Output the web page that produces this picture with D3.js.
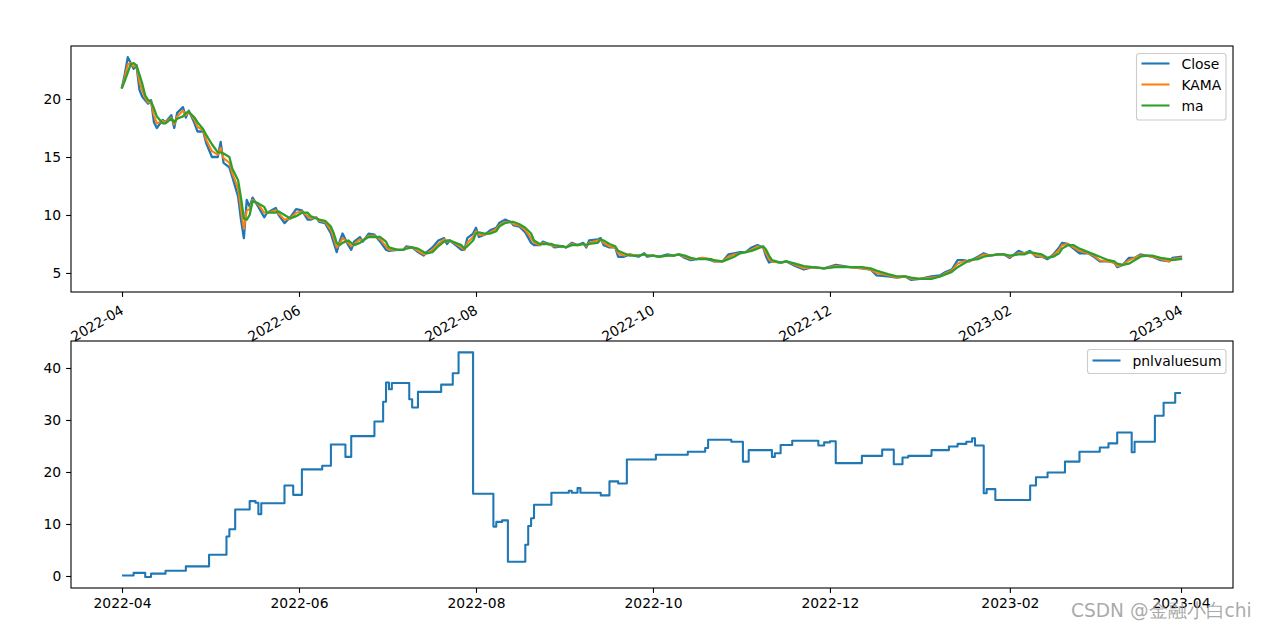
<!DOCTYPE html>
<html>
<head>
<meta charset="utf-8">
<script src="https://cdn.jsdelivr.net/npm/d3@7"></script>
<style>
  html, body { margin: 0; padding: 0; background: #fff; }
  svg { display: block; }
  text { font-family: "DejaVu Sans", sans-serif; }
</style>
</head>
<body>
<svg id="chart" width="1264" height="628"></svg>
<script>
// ---------- DATA ----------
const priceDates = [
"2022-04-01","2022-04-02","2022-04-03","2022-04-04","2022-04-05","2022-04-06","2022-04-07","2022-04-08","2022-04-09","2022-04-10",
"2022-04-11","2022-04-12","2022-04-13","2022-04-15","2022-04-16","2022-04-18","2022-04-19","2022-04-20","2022-04-22","2022-04-23",
"2022-04-24","2022-04-26","2022-04-27","2022-04-29","2022-04-30","2022-05-02","2022-05-04","2022-05-05","2022-05-06","2022-05-08",
"2022-05-09","2022-05-11","2022-05-12","2022-05-13","2022-05-14","2022-05-15","2022-05-16","2022-05-18","2022-05-20","2022-05-21",
"2022-05-24","2022-05-25","2022-05-27","2022-05-29","2022-05-31","2022-06-02","2022-06-04","2022-06-05","2022-06-07","2022-06-08",
"2022-06-10","2022-06-12","2022-06-13","2022-06-14","2022-06-15","2022-06-16","2022-06-18","2022-06-19","2022-06-20","2022-06-22",
"2022-06-23","2022-06-25","2022-06-27","2022-06-29","2022-07-01","2022-07-02","2022-07-05","2022-07-07","2022-07-08","2022-07-10",
"2022-07-12","2022-07-14","2022-07-15","2022-07-17","2022-07-19","2022-07-21","2022-07-22","2022-07-23","2022-07-25","2022-07-27",
"2022-07-28","2022-07-29","2022-07-31","2022-08-01","2022-08-02","2022-08-04","2022-08-06","2022-08-08","2022-08-09","2022-08-11",
"2022-08-13","2022-08-14","2022-08-16","2022-08-18","2022-08-20","2022-08-21","2022-08-23","2022-08-24","2022-08-27","2022-08-28",
"2022-08-31","2022-09-01","2022-09-03","2022-09-05","2022-09-07","2022-09-08","2022-09-09","2022-09-12","2022-09-13","2022-09-14",
"2022-09-16","2022-09-18","2022-09-19","2022-09-21","2022-09-23","2022-09-26","2022-09-28","2022-09-29","2022-10-01","2022-10-03",
"2022-10-06","2022-10-08","2022-10-10","2022-10-12","2022-10-14","2022-10-16","2022-10-18","2022-10-21","2022-10-22","2022-10-25",
"2022-10-27","2022-10-29","2022-10-31","2022-11-02","2022-11-04","2022-11-06","2022-11-08","2022-11-09","2022-11-10","2022-11-11",
"2022-11-14","2022-11-16","2022-11-19","2022-11-22","2022-11-25","2022-11-29","2022-12-03","2022-12-08","2022-12-12","2022-12-15",
"2022-12-17","2022-12-21","2022-12-24","2022-12-27","2022-12-29","2023-01-01","2023-01-05","2023-01-08","2023-01-10","2023-01-12",
"2023-01-14","2023-01-16","2023-01-18","2023-01-21","2023-01-23","2023-01-25","2023-01-28","2023-01-30","2023-02-01","2023-02-04",
"2023-02-06","2023-02-08","2023-02-10","2023-02-12","2023-02-14","2023-02-16","2023-02-18","2023-02-19","2023-02-21","2023-02-23",
"2023-02-25","2023-02-28","2023-03-02","2023-03-04","2023-03-07","2023-03-09","2023-03-10","2023-03-12","2023-03-14","2023-03-16",
"2023-03-18","2023-03-20","2023-03-22","2023-03-25","2023-03-28","2023-03-29","2023-04-01"
];
const closeValues = [
21.0,22.2,23.6,23.1,22.6,22.9,20.8,20.2,19.9,19.6,
19.9,18.0,17.5,18.2,18.0,18.6,17.5,18.8,19.3,18.4,
19.0,17.9,17.2,17.2,16.2,15.0,15.0,16.3,14.5,14.1,
13.3,11.6,9.6,8.0,11.3,10.7,11.5,10.7,9.8,10.2,
10.6,10.0,9.3,9.8,10.5,10.4,9.6,9.6,9.8,9.4,
9.3,8.4,7.6,6.8,7.7,8.4,7.4,7.0,7.7,8.1,
7.7,8.4,8.3,7.7,7.0,6.9,7.0,7.0,7.3,7.2,
6.8,6.5,6.8,7.2,7.8,8.0,7.5,7.8,7.4,7.0,
7.0,8.0,8.4,8.9,8.1,8.3,8.7,8.9,9.3,9.6,
9.4,9.1,9.0,8.5,7.6,7.4,7.4,7.7,7.4,7.2,
7.3,7.2,7.6,7.4,7.6,7.2,7.8,7.9,8.0,7.4,
7.2,7.2,6.4,6.4,6.6,6.4,6.7,6.4,6.5,6.4,
6.6,6.5,6.6,6.3,6.1,6.2,6.3,6.1,6.0,6.0,
6.6,6.7,6.8,6.8,7.2,7.4,7.2,6.4,5.9,6.0,
5.9,6.0,5.6,5.3,5.5,5.4,5.7,5.5,5.4,5.3,
4.8,4.7,4.6,4.7,4.4,4.5,4.7,4.8,5.1,5.3,
6.1,6.1,6.0,6.4,6.7,6.5,6.6,6.6,6.3,6.9,
6.7,6.9,6.4,6.4,6.2,6.6,7.2,7.6,7.5,7.1,
6.7,6.7,6.4,6.0,6.0,5.9,5.5,5.7,6.3,6.3,
6.6,6.5,6.4,6.1,6.0,6.3,6.4
];
const kamaValues = [
21.0,21.9,23.0,23.1,22.8,22.9,21.5,20.7,20.1,19.7,
19.8,18.6,17.9,18.1,18.0,18.4,17.8,18.5,19.0,18.6,
18.9,18.2,17.6,17.3,16.5,15.5,15.2,15.8,14.9,14.5,
13.6,12.3,10.5,8.8,10.4,10.5,11.3,10.9,10.2,10.2,
10.4,10.1,9.6,9.7,10.2,10.3,9.9,9.7,9.8,9.5,
9.4,8.7,8.0,7.2,7.5,8.0,7.6,7.3,7.5,7.9,
7.8,8.2,8.2,7.9,7.3,7.0,7.0,7.0,7.2,7.2,
6.9,6.6,6.7,7.0,7.5,7.9,7.7,7.8,7.5,7.2,
7.0,7.6,8.1,8.6,8.3,8.3,8.5,8.8,9.1,9.4,
9.4,9.2,9.1,8.7,8.0,7.6,7.4,7.6,7.4,7.3,
7.3,7.2,7.5,7.4,7.5,7.3,7.6,7.8,7.9,7.6,
7.3,7.2,6.7,6.5,6.6,6.5,6.6,6.5,6.5,6.4,
6.5,6.5,6.6,6.4,6.2,6.2,6.3,6.2,6.0,6.0,
6.4,6.6,6.7,6.8,7.0,7.3,7.2,6.7,6.2,6.0,
5.9,6.0,5.7,5.4,5.5,5.4,5.6,5.5,5.4,5.3,
5.0,4.8,4.6,4.7,4.5,4.5,4.6,4.7,5.0,5.2,
5.8,6.0,6.0,6.3,6.6,6.5,6.6,6.6,6.4,6.7,
6.7,6.8,6.5,6.4,6.3,6.5,7.0,7.4,7.5,7.2,
6.9,6.7,6.5,6.1,6.0,5.9,5.6,5.7,6.1,6.3,
6.5,6.5,6.4,6.2,6.0,6.2,6.3
];
const maValues = [
21.0,21.6,22.3,23.0,23.1,22.9,22.1,21.3,20.3,19.9,
19.8,19.2,18.5,17.9,17.9,18.3,18.0,18.3,18.5,18.8,
18.9,18.4,18.0,17.4,16.9,16.1,15.4,15.4,15.3,15.0,
14.0,13.0,11.5,9.7,9.6,10.0,11.2,11.0,10.7,10.2,
10.2,10.3,10.0,9.7,9.9,10.2,10.2,9.9,9.7,9.6,
9.5,9.0,8.4,7.6,7.4,7.6,7.8,7.6,7.4,7.6,
7.8,8.1,8.1,8.1,7.7,7.2,7.0,7.0,7.1,7.2,
7.1,6.8,6.7,6.8,7.3,7.7,7.8,7.8,7.6,7.4,
7.1,7.3,7.8,8.4,8.5,8.4,8.4,8.6,9.0,9.3,
9.4,9.4,9.2,8.9,8.4,7.8,7.5,7.5,7.5,7.4,
7.3,7.2,7.4,7.4,7.5,7.4,7.5,7.6,7.9,7.8,
7.5,7.3,6.9,6.7,6.5,6.5,6.6,6.5,6.5,6.4,
6.5,6.5,6.6,6.5,6.3,6.2,6.2,6.2,6.1,6.0,
6.2,6.4,6.7,6.8,6.9,7.1,7.3,7.0,6.5,6.1,
5.9,6.0,5.8,5.6,5.5,5.4,5.5,5.5,5.5,5.4,
5.2,4.9,4.7,4.7,4.6,4.5,4.5,4.7,4.9,5.1,
5.5,5.8,6.1,6.2,6.4,6.5,6.6,6.6,6.5,6.6,
6.6,6.8,6.7,6.6,6.3,6.4,6.7,7.1,7.4,7.4,
7.1,6.8,6.6,6.4,6.1,6.0,5.8,5.7,5.8,6.1,
6.4,6.5,6.5,6.3,6.2,6.1,6.2
];

const pnlDates = [
"2022-04-01","2022-04-05","2022-04-09","2022-04-11","2022-04-16","2022-04-23","2022-05-01","2022-05-07","2022-05-08","2022-05-10",
"2022-05-15","2022-05-17","2022-05-18","2022-05-19","2022-05-27","2022-05-30","2022-06-02","2022-06-09","2022-06-12","2022-06-17",
"2022-06-19","2022-06-27","2022-06-30","2022-07-01","2022-07-02","2022-07-03","2022-07-09","2022-07-10","2022-07-12","2022-07-20",
"2022-07-24","2022-07-26","2022-07-31","2022-08-07","2022-08-08","2022-08-10","2022-08-12","2022-08-18","2022-08-19","2022-08-20",
"2022-08-21","2022-08-27","2022-09-02","2022-09-03","2022-09-05","2022-09-06","2022-09-13","2022-09-16","2022-09-19","2022-09-22",
"2022-10-02","2022-10-13","2022-10-19","2022-10-20","2022-10-28","2022-11-01","2022-11-03","2022-11-11","2022-11-12","2022-11-14",
"2022-11-18","2022-11-27","2022-11-29","2022-12-01","2022-12-03","2022-12-12","2022-12-19","2022-12-23","2022-12-26","2022-12-28",
"2023-01-05","2023-01-11","2023-01-14","2023-01-17","2023-01-19","2023-01-20","2023-01-23","2023-01-24","2023-01-27","2023-02-08",
"2023-02-10","2023-02-14","2023-02-20","2023-02-25","2023-03-04","2023-03-07","2023-03-10","2023-03-15","2023-03-16","2023-03-23",
"2023-03-26","2023-03-30","2023-04-01"
];
const pnlValues = [
0.1,0.6,-0.2,0.45,1.0,1.85,4.1,7.6,9.0,12.8,
14.4,14.1,11.9,14.0,17.4,15.6,20.5,21.2,25.3,22.9,
26.9,29.7,33.5,37.2,35.9,37.1,34.0,32.4,35.4,36.8,
39.0,43.0,15.8,9.5,10.4,10.7,2.75,6.0,9.6,11.1,
13.7,16.0,16.4,16.0,16.9,16.0,15.5,18.2,17.8,22.4,
23.3,23.9,24.6,26.2,25.8,22.0,24.2,22.9,23.6,25.2,
26.0,25.1,25.7,25.9,21.7,23.1,24.3,21.5,22.8,23.1,
24.2,24.9,25.4,25.8,26.5,25.1,15.9,16.7,14.6,17.4,
19.0,19.9,22.0,23.9,24.7,25.5,27.6,23.8,25.8,30.8,
33.3,35.2,35.2
];

const seriesNames = ["Close", "KAMA", "ma"];
const pnlName = "pnlvaluesum";
const topYTicks = [5, 10, 15, 20];
const bottomYTicks = [0, 10, 20, 30, 40];
const xTickLabels = ["2022-04","2022-06","2022-08","2022-10","2022-12","2023-02","2023-04"];
const xDomain = ["2022-03-14T10:00", "2023-04-18T22:00"];
const topYDomain = [3.36, 24.57];
const bottomYDomain = [-2.31, 45.19];
const watermark = "CSDN @金融小白chi";

// ---------- DRAW ----------
const svg = d3.select("#chart");
const colors = ["#1f77b4", "#ff7f0e", "#2ca02c"];
const parse = d3.timeParse("%Y-%m-%d");
const parseT = d3.timeParse("%Y-%m-%dT%H:%M");
const fs = 13.89;

const L = 71, R = 1233;
const top1 = 46, bot1 = 292, top2 = 341, bot2 = 588;

const x = d3.scaleTime().domain(xDomain.map(parseT)).range([L, R]);
const y1 = d3.scaleLinear().domain(topYDomain).range([bot1, top1]);
const y2 = d3.scaleLinear().domain(bottomYDomain).range([bot2, top2]);

const tickDates = xTickLabels.map(s => d3.timeParse("%Y-%m")(s));

function drawFrame(t, b) {
  svg.append("rect").attr("x", L).attr("y", t).attr("width", R - L).attr("height", b - t)
    .attr("fill", "none").attr("stroke", "#000").attr("stroke-width", 1.1);
}

function yAxis(yScale, ticks) {
  const g = svg.append("g").attr("transform", `translate(${L},0)`)
    .call(d3.axisLeft(yScale).tickValues(ticks).tickSize(4.9).tickPadding(4.9).tickFormat(d3.format("d")));
  g.select(".domain").remove();
  g.selectAll(".tick line").attr("stroke", "#000").attr("stroke-width", 1.1);
  g.selectAll(".tick text").attr("font-size", fs).attr("font-family", "DejaVu Sans").attr("fill", "#000");
}

const defs = svg.append("defs");
defs.append("clipPath").attr("id", "clip1").append("rect").attr("x", L).attr("y", top1).attr("width", R - L).attr("height", bot1 - top1);
defs.append("clipPath").attr("id", "clip2").append("rect").attr("x", L).attr("y", top2).attr("width", R - L).attr("height", bot2 - top2);

// ---- top panel ----
const pd = priceDates.map(parse);
const allSeries = [closeValues, kamaValues, maValues];
const widths = [2.3, 2.08, 2.3];
allSeries.forEach((vals, i) => {
  const line = d3.line().x((d, j) => x(pd[j])).y(d => y1(d));
  svg.append("path").datum(vals).attr("d", line)
    .attr("fill", "none").attr("stroke", colors[i]).attr("stroke-width", widths[i])
    .attr("stroke-linejoin", "round").attr("stroke-linecap", "square")
    .attr("clip-path", "url(#clip1)");
});
drawFrame(top1, bot1);
yAxis(y1, topYTicks);

const gx1 = svg.append("g").attr("transform", `translate(0,${bot1})`)
  .call(d3.axisBottom(x).tickValues(tickDates).tickSize(4.9).tickFormat(d3.timeFormat("%Y-%m")));
gx1.select(".domain").remove();
gx1.selectAll(".tick line").attr("stroke", "#000").attr("stroke-width", 1.1);
gx1.selectAll(".tick text")
  .attr("font-size", fs).attr("font-family", "DejaVu Sans").attr("fill", "#000")
  .attr("text-anchor", "end").attr("y", 0).attr("dy", null)
  .attr("transform", "translate(-3,12) rotate(-30)")
  .attr("dominant-baseline", "hanging");

function legend(xl, yt, w, h, names, cols, rowY) {
  svg.append("rect").attr("x", xl).attr("y", yt).attr("width", w).attr("height", h)
    .attr("rx", 2.8).attr("fill", "#fff").attr("fill-opacity", 0.8)
    .attr("stroke", "#cccccc").attr("stroke-width", 1.1);
  names.forEach((n, i) => {
    const yy = rowY[i];
    svg.append("line").attr("x1", xl + 5).attr("x2", xl + 33).attr("y1", yy).attr("y2", yy)
      .attr("stroke", cols[i]).attr("stroke-width", 2.08);
    svg.append("text").attr("x", xl + 45).attr("y", yy).attr("dy", "0.36em")
      .attr("font-size", fs).attr("fill", "#000").text(n);
  });
}
legend(1136.5, 53.5, 89.5, 66.5, seriesNames, colors, [63.5, 84.5, 105.5]);

// ---- bottom panel ----
const pnd = pnlDates.map(parse);
const stepLine = d3.line().x((d, j) => x(pnd[j])).y(d => y2(d)).curve(d3.curveStepAfter);
svg.append("path").datum(pnlValues).attr("d", stepLine)
  .attr("fill", "none").attr("stroke", colors[0]).attr("stroke-width", 2.08)
  .attr("stroke-linejoin", "round").attr("clip-path", "url(#clip2)");
drawFrame(top2, bot2);
yAxis(y2, bottomYTicks);

const gx2 = svg.append("g").attr("transform", `translate(0,${bot2})`)
  .call(d3.axisBottom(x).tickValues(tickDates).tickSize(4.9).tickPadding(4.9).tickFormat(d3.timeFormat("%Y-%m")));
gx2.select(".domain").remove();
gx2.selectAll(".tick line").attr("stroke", "#000").attr("stroke-width", 1.1);
gx2.selectAll(".tick text").attr("font-size", fs).attr("font-family", "DejaVu Sans").attr("fill", "#000");

legend(1087.5, 349.5, 138.5, 24, [pnlName], colors, [360.5]);

// watermark (overlays the last tick label, as in the reference)
svg.append("text").attr("x", 1071).attr("y", 617)
  .attr("font-family", "'Noto Sans CJK SC', 'Noto Sans', sans-serif")
  .attr("font-size", 18.6).attr("fill", "#9a9a9a").attr("fill-opacity", 0.85)
  .text(watermark);
</script>
</body>
</html>
